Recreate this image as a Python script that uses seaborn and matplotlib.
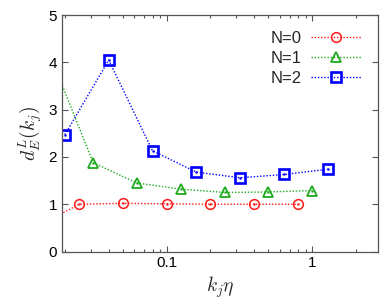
import matplotlib
matplotlib.use("Agg")
import matplotlib.pyplot as plt
import seaborn as sns
import pandas as pd

# --- data ---
x_n0 = [0.0125, 0.025, 0.05, 0.1, 0.2, 0.4, 0.8]
y_n0 = [0.50, 1.00, 1.02, 1.01, 1.00, 1.00, 1.00]

x_n1 = [0.015625, 0.03125, 0.0625, 0.125, 0.25, 0.5, 1.0]
y_n1 = [4.20, 1.88, 1.45, 1.32, 1.25, 1.26, 1.29]

x_n2 = [0.02, 0.04, 0.08, 0.16, 0.32, 0.64, 1.28]
y_n2 = [2.47, 4.05, 2.13, 1.68, 1.56, 1.63, 1.74]

labels = ["N=0", "N=1", "N=2"]
colors = ["#ff1a1a", "#1faa1f", "#0000ff"]
markers = ["o", "^", "s"]

sns.set_theme(style="ticks")
plt.rcParams["font.family"] = ["Liberation Sans", "DejaVu Sans"]
plt.rcParams["mathtext.fontset"] = "cm"

fig = plt.figure(figsize=(3.9, 3.02), dpi=100)
ax = fig.add_axes([0.159, 0.167, 0.81, 0.783])

series = [(x_n0, y_n0), (x_n1, y_n1), (x_n2, y_n2)]
msizes = [7, 7, 7]
mews = [1.1, 1.3, 1.9]
for (xs, ys), lab, c, m, ms, mew in zip(series, labels, colors, markers, msizes, mews):
    df = pd.DataFrame({"k": xs, "d": ys})
    sns.lineplot(data=df, x="k", y="d", ax=ax, color=c, linestyle=(0, (1, 1.3)),
                 linewidth=1.0, marker=m, markersize=ms, markerfacecolor="none",
                 markeredgecolor=c, markeredgewidth=mew, label=lab, sort=False)
    # small centre dot inside each symbol
    ax.plot(xs, ys, linestyle="none", marker=".", markersize=1.5, color=c)

ax.set_xscale("log")
ax.set_xlim(0.0191, 2.83)
ax.set_ylim(0, 5)
ax.set_yticks([0, 1, 2, 3, 4, 5])
ax.set_xticks([0.1, 1])
ax.set_xticklabels(["0.1", "1"])

ax.tick_params(which="both", direction="in", top=True, right=True,
               labelsize=11, colors="#555555", labelcolor="black")
ax.tick_params(which="major", length=4.5, width=0.8)
ax.tick_params(which="minor", length=2.5, width=0.8)
for sp in ax.spines.values():
    sp.set_color("#555555")
    sp.set_linewidth(0.9)

ax.set_xlabel(r"$k_j\eta$", fontsize=14, labelpad=3)
ax.set_ylabel(r"$d_E^L(k_j)$", fontsize=14, labelpad=3)

ax.legend(loc="upper right", bbox_to_anchor=(0.99, 0.99), frameon=False,
          markerfirst=False, fontsize=12, handlelength=3.0, handletextpad=0.6,
          labelspacing=0.3, borderaxespad=0.4, numpoints=1)

fig.savefig("out.png", dpi=100)
plt.close(fig)
